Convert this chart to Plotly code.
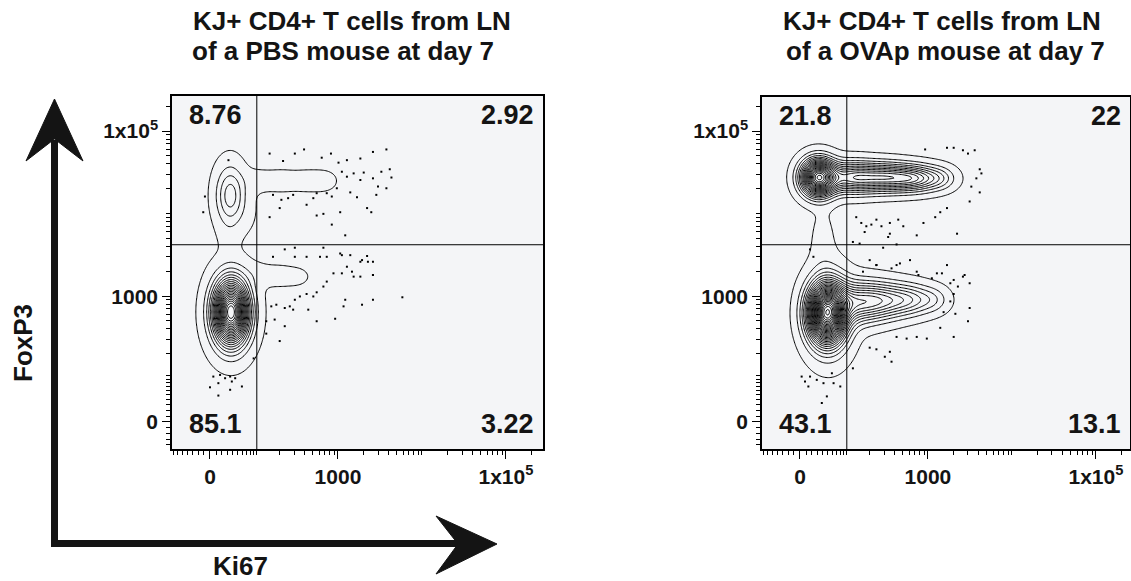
import numpy as np
import plotly.graph_objects as go

W, H = 1131, 581
FONT = "Liberation Sans, Arial, Helvetica, sans-serif"
INK = "#141414"

# ---- biexponential (arcsinh) display scale, in decades ----
COFACTOR = 60.0


def biex(v):
    return np.arcsinh(np.asarray(v, dtype=float) / COFACTOR) / np.log(10)


TICK_VALUES = [0, 1000, 100000]
TICK_TEXT = ["0", "1000", "1x10<sup>5</sup>"]
MINOR_TICK_VALUES = ([-70, -60, -50, -40, -30, -20, -10]
                     + [10, 20, 30, 40, 50, 60, 70, 80, 90, 100]
                     + [m * 10 ** k for k in (2, 3, 4) for m in range(2, 10)]
                     + [10000, 200000])

# quadrant gates (fluorescence units)
KI67_GATE = 100
FOXP3_GATE = 4200

TITLE_LINES = [["KJ+ CD4+ T cells from LN", "of a PBS mouse at day 7"],
               ["KJ+ CD4+ T cells from LN", "of a OVAp mouse at day 7"]]

# quadrant frequencies (%): upper-left, upper-right, lower-left, lower-right
PBS_QUADRANTS = [8.76, 2.92, 85.1, 3.22]
OVAP_QUADRANTS = [21.8, 22, 43.1, 13.1]

# event populations on the display scale: centre, spread and share
PBS_POP_X = [0.25, 0.25, 0.24, 0.22, 0.45, 0.55, 0.85, 1.15, 1.38, 0.55, 0.82, 1.05]
PBS_POP_Y = [1.33, 1.33, 2.74, 2.25, 2.55, 2.92, 2.92, 2.92, 2.92, 1.78, 1.77, 1.76]
PBS_POP_SX = [0.13, 0.17, 0.11, 0.09, 0.10, 0.14, 0.14, 0.14, 0.12, 0.13, 0.13, 0.12]
PBS_POP_SY = [0.24, 0.31, 0.23, 0.15, 0.20, 0.10, 0.10, 0.10, 0.10, 0.10, 0.10, 0.09]
PBS_POP_W = [0.176, 0.033, 0.027, 0.0010, 0.0015, 0.0018, 0.0018, 0.0017, 0.0012,
             0.0016, 0.0015, 0.0010]

OVAP_POP_X = [0.22, 0.60, 1.00, 1.38, 1.68, 0.27, 0.32, 0.34, 0.68, 1.00, 1.33, 1.60]
OVAP_POP_Y = [2.96, 2.96, 2.96, 2.95, 2.95, 2.20, 1.32, 1.30, 1.45, 1.47, 1.48, 1.48]
OVAP_POP_SX = [0.13, 0.20, 0.22, 0.20, 0.12, 0.10, 0.14, 0.17, 0.20, 0.20, 0.18, 0.12]
OVAP_POP_SY = [0.14, 0.12, 0.11, 0.10, 0.09, 0.28, 0.22, 0.32, 0.16, 0.14, 0.12, 0.10]
OVAP_POP_W = [0.080, 0.045, 0.0456, 0.031, 0.004, 0.0035, 0.1645, 0.052, 0.0503,
              0.0352, 0.019, 0.0038]

# sparse single events outside the contours (display scale)
PBS_DOT_X = [0.71, 0.87, 1.01, 1.12, 1.33, 1.44, 1.53, 1.63, 1.79, 1.94, 2.10, 2.04, 2.14, 2.16,
             1.94, 1.83, 1.79, 1.71, 1.63, 1.57, 2.00, 1.98, 2.10, 1.87, 1.92, 1.75, 1.67, 1.51,
             1.45, 1.39, 1.27, 1.23, 1.15, 0.99, 0.93, 0.85, 0.83, 0.75, 0.71, 1.27, 1.35, 1.45,
             1.55, 1.61, 0.22, -0.06, -0.08,
             0.89, 1.01, 1.01, 1.15, 1.35, 1.39, 1.55, 1.67, 1.81, 1.87, 1.94, 1.63, 1.47, 1.94,
             1.71,
             0.75, 1.31, 1.57, 1.79, 1.88, 1.94, 1.79, 1.69, 1.57, 1.39, 1.35, 1.27, 1.23, 1.15,
             1.07, 1.01, 0.95, 0.89, 0.79, 0.73, 0.67, 0.77, 0.89, 0.99, 1.17, 1.27, 1.49, 1.59,
             1.61, 1.81, 1.94, 2.29, 0.67, 0.83,
             0.04, 0.12, 0.18, 0.24, 0.26, 0.10, 0.00, 0.10, 0.24, 0.38, 0.30, 0.52]
PBS_DOT_Y = [3.25, 3.16, 3.25, 3.30, 3.20, 3.25, 3.14, 3.17, 3.19, 3.27, 3.30, 3.03, 3.06, 2.96,
             2.95, 3.02, 2.93, 3.01, 2.97, 3.03, 2.85, 2.75, 2.83, 2.59, 2.54, 2.72, 2.78, 2.83,
             2.73, 2.77, 2.77, 2.71, 2.63, 2.75, 2.71, 2.69, 2.59, 2.75, 2.48, 2.50, 2.52, 2.39,
             2.54, 2.26, 3.17, 2.73, 2.54,
             2.09, 2.11, 2.00, 2.00, 2.11, 2.00, 2.04, 2.02, 1.96, 2.01, 1.94, 1.88, 1.80, 1.78,
             1.76,
             2.00, 2.00, 2.02, 1.94, 1.94, 1.78, 1.76, 1.82, 1.80, 1.70, 1.64, 1.57, 1.52, 1.55,
             1.52, 1.48, 1.40, 1.38, 1.42, 1.40, 1.22, 1.24, 1.16, 1.36, 1.36, 1.22, 1.25, 1.40,
             1.48, 1.42, 1.48, 1.51, 1.07, 0.98,
             0.55, 0.57, 0.53, 0.55, 0.49, 0.47, 0.42, 0.32, 0.39, 0.43, 0.53, 0.77]

OVAP_DOT_X = [1.75, 1.83, 1.94, 2.00, 2.08, 2.14, 2.16, 2.10, 2.14, 2.04, 2.02, 1.49, 0.67, 0.73,
              0.79, 0.85, 0.77, 0.91, 0.97, 1.07, 1.17, 1.23, 1.07, 1.05, 1.39, 1.47, 1.61, 1.67,
              1.75, 1.87, 0.63, 0.71, 0.99, 1.15, 0.12, 0.16, 0.83, 0.91, 1.09, 1.19, 1.39, 1.75,
              1.94, 1.63,
              0.91, 1.15, 1.31, 0.75, 1.41, 1.57, 1.69, 1.79, 1.83, 1.88, 2.02, 1.96, 1.83, 1.79,
              1.85, 1.71, 2.02, 2.00, 1.83, 1.67, 1.51, 1.39, 1.27, 1.15, 1.07, 1.01, 1.09, 0.91,
              0.83, 0.63, 0.48, 0.40, 0.28, 0.20, 0.12, 0.06, 0.10, 0.26, 0.32, 0.38, 0.02]
OVAP_DOT_Y = [3.32, 3.32, 3.29, 3.25, 3.29, 3.06, 3.01, 2.95, 2.78, 2.85, 2.67, 3.30, 2.48, 2.41,
              2.37, 2.39, 2.30, 2.45, 2.37, 2.41, 2.45, 2.37, 2.28, 2.24, 2.26, 2.41, 2.48, 2.54,
              2.59, 2.28, 2.18, 2.16, 2.11, 2.15, 2.09, 2.00, 1.96, 1.90, 1.86, 1.92, 1.82, 1.90,
              1.76, 1.80,
              1.90, 1.90, 1.96, 1.82, 1.78, 1.74, 1.80, 1.68, 1.72, 1.64, 1.68, 1.78, 1.55, 1.46,
              1.31, 1.33, 1.38, 1.22, 1.03, 1.14, 1.01, 1.03, 1.01, 1.03, 0.85, 0.79, 0.73, 0.88,
              0.90, 0.65, 0.43, 0.47, 0.47, 0.51, 0.55, 0.49, 0.43, 0.23, 0.31, 0.59, 0.55]


def px(x):
    return x / W


def py(y):
    return 1 - y / H


def density(gx, gy, mx, my, sx, sy, w):
    X, Y = np.meshgrid(gx, gy)
    z = np.zeros_like(X)
    for a, b, s, t, q in zip(mx, my, sx, sy, w):
        z += q / (2 * np.pi * s * t) * np.exp(-0.5 * (((X - a) / s) ** 2 + ((Y - b) / t) ** 2))
    return z / z.max()


# panel geometry (pixels) and display ranges
PANELS = [
    dict(box=(172, 543, 96, 449), xr=(-0.452, 3.964), yr=(-0.327, 3.947),
         pops=(PBS_POP_X, PBS_POP_Y, PBS_POP_SX, PBS_POP_SY, PBS_POP_W),
         dots=(PBS_DOT_X, PBS_DOT_Y), quads=PBS_QUADRANTS, title=TITLE_LINES[0],
         title_x=(352, 343), levels=(0.01, 0.045)),
    dict(box=(762, 1130, 97, 449), xr=(-0.452, 3.929), yr=(-0.327, 3.935),
         pops=(OVAP_POP_X, OVAP_POP_Y, OVAP_POP_SX, OVAP_POP_SY, OVAP_POP_W),
         dots=(OVAP_DOT_X, OVAP_DOT_Y), quads=OVAP_QUADRANTS, title=TITLE_LINES[1],
         title_x=(942, 945), levels=(0.01, 0.035)),
]

fig = go.Figure()
layout = dict(width=W, height=H, margin=dict(l=0, r=0, t=0, b=0), autosize=False,
              paper_bgcolor="white", showlegend=False,
              font=dict(family=FONT, color=INK))
annotations, shapes = [], []

for i, p in enumerate(PANELS):
    sfx = "" if i == 0 else str(i + 1)
    xa, ya = "x" + sfx, "y" + sfx
    x0, x1, y0, y1 = p["box"]
    gx = np.linspace(p["xr"][0], p["xr"][1], 300)
    gy = np.linspace(p["yr"][0], p["yr"][1], 300)
    z = density(gx, gy, *p["pops"])
    start, step = p["levels"]
    fig.add_trace(go.Contour(
        x=gx, y=gy, z=z, xaxis=xa, yaxis=ya,
        contours=dict(coloring="lines", start=start, end=1.0, size=step, showlabels=False),
        line=dict(width=1, smoothing=1.0),
        colorscale=[[0, "black"], [1, "black"]], showscale=False, hoverinfo="skip"))
    fig.add_trace(go.Scatter(
        x=p["dots"][0], y=p["dots"][1], xaxis=xa, yaxis=ya, mode="markers",
        marker=dict(symbol="square", size=2, color="black", line=dict(width=0)),
        hoverinfo="skip"))

    axis_common = dict(
        showgrid=False, zeroline=False, showline=True, linecolor="black", linewidth=1.5,
        mirror=True, ticks="outside", ticklen=8, tickwidth=1, tickcolor="black",
        tickvals=list(biex(TICK_VALUES)), ticktext=TICK_TEXT,
        tickfont=dict(family=FONT, size=21, color=INK, weight="bold"),
        minor=dict(tickvals=list(biex(MINOR_TICK_VALUES)), ticks="outside", ticklen=4,
                   tickwidth=1, tickcolor="black", showgrid=False),
        fixedrange=True)
    layout["xaxis" + sfx] = dict(axis_common, domain=[px(x0), px(x1)], range=list(p["xr"]),
                                 anchor=ya)
    layout["yaxis" + sfx] = dict(axis_common, domain=[py(y1), py(y0)], range=list(p["yr"]),
                                 anchor=xa)

    # plot area background
    shapes.append(dict(type="rect", xref="paper", yref="paper", layer="below",
                       x0=px(x0), x1=px(x1), y0=py(y1), y1=py(y0),
                       fillcolor="#f4f5f7", line=dict(width=0)))
    # quadrant gates
    gxv = float(biex(KI67_GATE))
    gyv = float(biex(FOXP3_GATE))
    shapes.append(dict(type="line", xref=xa, yref=ya + " domain", x0=gxv, x1=gxv, y0=0, y1=1,
                       line=dict(color="black", width=1)))
    shapes.append(dict(type="line", xref=xa + " domain", yref=ya, x0=0, x1=1, y0=gyv, y1=gyv,
                       line=dict(color="black", width=1)))

    # quadrant frequencies
    ul, ur, ll, lr = p["quads"]
    qfont = dict(family=FONT, size=27, color=INK, weight="bold")
    for val, xd, xanc, yd in ((ul, 0.04, "left", 0.945), (ur, 0.98, "right", 0.945),
                              (ll, 0.04, "left", 0.07), (lr, 0.98, "right", 0.07)):
        annotations.append(dict(text="%g" % val, xref=xa + " domain", yref=ya + " domain",
                                x=xd, y=yd, xanchor=xanc, yanchor="middle", showarrow=False,
                                font=qfont))

    # panel title, one annotation per line
    for line_text, cx, cy in zip(p["title"], p["title_x"], (21, 51)):
        annotations.append(dict(text=line_text, xref="paper", yref="paper",
                                x=px(cx), y=py(cy), xanchor="center", yanchor="middle",
                                showarrow=False,
                                font=dict(family=FONT, size=26, color=INK, weight="bold")))

# thick FoxP3 / Ki67 arrows
shapes.append(dict(type="path", xref="paper", yref="paper",
                   path="M %f %f L %f %f L %f %f" % (px(54.5), py(140), px(54.5), py(543.5),
                                                     px(470), py(543.5)),
                   line=dict(color=INK, width=7)))
shapes.append(dict(type="path", xref="paper", yref="paper",
                   path="M %f %f L %f %f L %f %f L %f %f Z" % (px(54.5), py(99), px(83), py(161),
                                                               px(54.5), py(139), px(26), py(161)),
                   fillcolor=INK, line=dict(color=INK, width=1)))
shapes.append(dict(type="path", xref="paper", yref="paper",
                   path="M %f %f L %f %f L %f %f L %f %f Z" % (px(497), py(544), px(436), py(516),
                                                               px(458), py(544), px(436), py(574)),
                   fillcolor=INK, line=dict(color=INK, width=1)))
annotations.append(dict(text="FoxP3", xref="paper", yref="paper", x=px(23), y=py(343),
                        textangle=-90, showarrow=False, xanchor="center", yanchor="middle",
                        font=dict(family=FONT, size=26, color=INK, weight="bold")))
annotations.append(dict(text="Ki67", xref="paper", yref="paper", x=px(240), y=py(566),
                        showarrow=False, xanchor="center", yanchor="middle",
                        font=dict(family=FONT, size=26, color=INK, weight="bold")))

layout["annotations"] = annotations
layout["shapes"] = shapes
fig.update_layout(**layout)
fig.write_html("out.html")
